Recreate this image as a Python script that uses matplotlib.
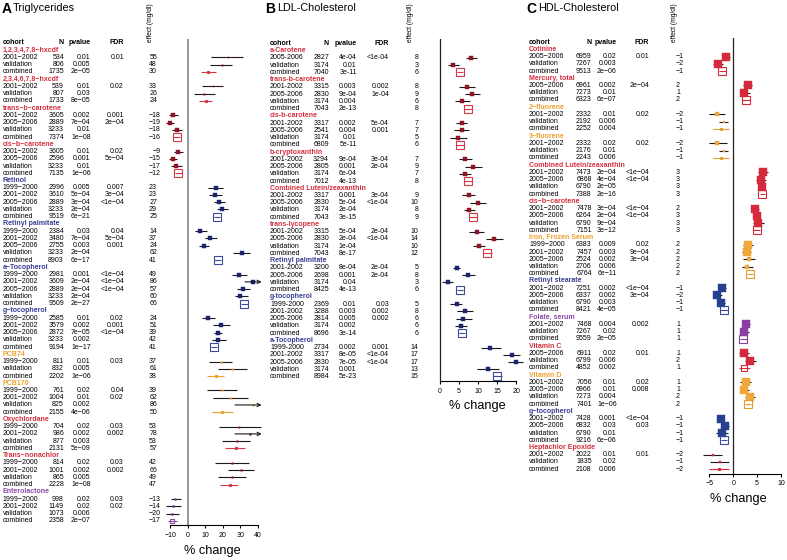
import numpy as np
import matplotlib.pyplot as plt

plt.rcParams['font.family'] = ['Liberation Sans', 'DejaVu Sans']

# ---------------- Panel A: Triglycerides ----------------
groups_a = ["1,2,3,4,7,8−hxcdf", "2,3,4,6,7,8−hxcdf", "trans−b−carotene", "cis−b−carotene",
            "Retinol", "Retinyl palmitate", "a−Tocopherol", "g−tocopherol", "PCB74", "PCB170",
            "Oxychlordane", "Trans−nonachlor", "Enterolactone"]
hues_a = ["red", "red", "red", "red", "blue", "blue", "blue", "blue", "orange", "orange",
          "red", "red", "purple"]
cohorts_a = [
    ["2001−2002", "validation", "combined"],
    ["2001−2002", "validation", "combined"],
    ["2001−2002", "2005−2006", "validation", "combined"],
    ["2001−2002", "2005−2006", "validation", "combined"],
    ["1999−2000", "2001−2002", "2005−2006", "validation", "combined"],
    ["1999−2000", "2001−2002", "2005−2006", "validation", "combined"],
    ["1999−2000", "2001−2002", "2005−2006", "validation", "combined"],
    ["1999−2000", "2001−2002", "2005−2006", "validation", "combined"],
    ["1999−2000", "validation", "combined"],
    ["1999−2000", "2001−2002", "validation", "combined"],
    ["1999−2000", "2001−2002", "validation", "combined"],
    ["1999−2000", "2001−2002", "validation", "combined"],
    ["1999−2000", "2001−2002", "validation", "combined"],
]
n_a = [[534, 806, 1735], [539, 807, 1733], [3605, 2889, 3233, 7374], [3605, 2596, 3233, 7135],
       [2996, 3610, 2889, 3233, 9519], [2384, 3480, 2755, 3233, 8903],
       [2981, 3609, 2889, 3233, 9509], [2585, 3579, 2872, 3233, 9194], [811, 832, 2202],
       [761, 1004, 825, 2155], [704, 986, 877, 2131], [814, 1001, 865, 2228],
       [998, 1149, 1073, 2358]]
pval_a = [["0.01", "0.005", "2e−05"], ["0.01", "0.03", "8e−05"],
          ["0.002", "7e−04", "0.01", "1e−08"], ["0.01", "0.001", "0.01", "1e−06"],
          ["0.005", "5e−04", "3e−04", "2e−04", "6e−21"], ["0.03", "7e−04", "0.003", "2e−04", "6e−17"],
          ["0.001", "2e−04", "2e−04", "2e−04", "2e−27"], ["0.01", "0.002", "7e−05", "0.002", "1e−17"],
          ["0.01", "0.005", "1e−06"], ["0.02", "0.01", "0.002", "4e−06"],
          ["0.02", "0.002", "0.003", "5e−09"], ["0.02", "0.002", "0.005", "1e−08"],
          ["0.02", "0.02", "0.006", "2e−07"]]
fdr_a = [["0.01", "", ""], ["0.02", "", ""], ["0.001", "2e−04", "", ""], ["0.02", "5e−04", "", ""],
         ["0.007", "3e−04", "<1e−04", "", ""], ["0.04", "5e−04", "0.001", "", ""],
         ["<1e−04", "<1e−04", "<1e−04", "", ""], ["0.02", "0.001", "<1e−04", "", ""],
         ["0.03", "", ""], ["0.04", "0.02", "", ""], ["0.03", "0.002", "", ""],
         ["0.03", "0.002", "", ""], ["0.03", "0.02", "", ""]]
effect_a = [[55, 48, 30], [33, 26, 24], [-18, -19, -18, -16], [-9, -15, -17, -12],
            [23, 23, 27, 29, 25], [14, 37, 24, 62, 41], [49, 86, 57, 60, 66], [24, 51, 39, 42, 41],
            [37, 61, 38], [39, 62, 86, 50], [53, 78, 53, 57], [42, 66, 49, 47], [-13, -14, -20, -17]]
pct_a = [[22.7, 19.2, 11.6], [14.1, 9.1, 10.1], [-8.6, -10.5, -6.5, -6.5], [-5.5, -8.6, -6.9, -5.5],
         [15.8, 15.6, 17.7, 19.6, 16.6], [6.9, 12.6, 9.1, 30.7, 17.0], [29.3, 37.0, 31.6, 29.7, 32.2],
         [11.6, 18.9, 17.0, 17.3, 15.0], [18.7, 25.3, 15.8], [19.2, 24.0, 37.0, 19.2],
         [29.3, 35.4, 27.8, 27.4], [25.3, 30.3, 25.0, 24.0], [-7.4, -8.4, -9.3, -9.0]]
lo_a = [[13.1, 12.6, 7.2], [7.8, 3.6, 6.1], [-10.9, -12.4, -9.3, -8.3], [-8.0, -10.9, -9.7, -7.3],
        [11.6, 12.2, 15.0, 16.4, 15.0], [4.0, 9.7, 6.5, 25.9, 15.0], [25.0, 32.6, 27.8, 26.9, 30.3],
        [7.8, 14.5, 15.0, 13.5, 13.3], [12.2, 17.3, 11.0], [11.0, 14.1, 26.9, 13.5],
        [17.9, 26.9, 19.2, 21.1], [15.4, 22.7, 17.0, 18.3], [-9.9, -12.7, -12.7, -11.6]]
hi_a = [[31.2, 25.0, 16.0], [19.8, 15.4, 13.9], [-5.9, -7.8, -3.3, -4.6], [-2.7, -6.5, -3.2, -3.7],
        [19.8, 19.2, 21.1, 23.0, 18.3], [10.7, 16.4, 12.2, 35.4, 19.0], [33.9, 45.0, 35.4, 34.5, 34.2],
        [15.4, 24.0, 19.2, 21.7, 16.8], [25.0, 33.5, 20.6], [27.8, 34.5, 50.0, 25.9],
        [41.5, 48.0, 35.4, 32.6], [35.0, 37.9, 33.1, 28.8], [-4.0, -4.0, -5.1, -6.5]]

# ---------------- Panel B: LDL-Cholesterol ----------------
groups_b = ["a-Carotene", "trans-b-carotene", "cis-b-carotene", "b-cryptoxanthin",
            "Combined Lutein/zeaxanthin", "trans-lycopene", "Retinyl palmitate",
            "g-tocopherol", "a-Tocopherol"]
hues_b = ["red", "red", "red", "red", "red", "red", "blue", "blue", "blue"]
cohorts_b = [
    ["2005-2006", "validation", "combined"],
    ["2001-2002", "2005-2006", "validation", "combined"],
    ["2001-2002", "2005-2006", "validation", "combined"],
    ["2001-2002", "2005-2006", "validation", "combined"],
    ["2001-2002", "2005-2006", "validation", "combined"],
    ["2001-2002", "2005-2006", "validation", "combined"],
    ["2001-2002", "2005-2006", "validation", "combined"],
    ["1999-2000", "2001-2002", "2005-2006", "validation", "combined"],
    ["1999-2000", "2001-2002", "2005-2006", "validation", "combined"],
]
n_b = [[2827, 3174, 7040], [3315, 2830, 3174, 7043], [3317, 2541, 3174, 6809],
       [3294, 2805, 3174, 7012], [3317, 2830, 3174, 7043], [3315, 2830, 3174, 7043],
       [3200, 2698, 3174, 8425], [2369, 3288, 2814, 3174, 8696], [2734, 3317, 2830, 3174, 8984]]
pval_b = [["4e-04", "0.01", "3e-11"], ["0.003", "9e-04", "0.004", "2e-13"],
          ["0.002", "0.004", "0.01", "5e-11"], ["9e-04", "0.001", "6e-04", "4e-13"],
          ["0.001", "5e-04", "2e-04", "3e-15"], ["5e-04", "2e-04", "1e-04", "8e-17"],
          ["8e-04", "0.001", "0.04", "4e-13"], ["0.01", "0.003", "0.005", "0.002", "3e-14"],
          ["0.002", "8e-05", "7e-05", "0.001", "5e-23"]]
fdr_b = [["<1e-04", "", ""], ["0.002", "1e-04", "", ""], ["5e-04", "0.001", "", ""],
         ["3e-04", "2e-04", "", ""], ["3e-04", "<1e-04", "", ""], ["2e-04", "<1e-04", "", ""],
         ["2e-04", "2e-04", "", ""], ["0.03", "0.002", "0.002", "", ""],
         ["0.001", "<1e-04", "<1e-04", "", ""]]
effect_b = [[8, 3, 6], [8, 9, 6, 8], [7, 7, 5, 6], [7, 9, 7, 8], [9, 10, 8, 9], [10, 14, 10, 12],
            [5, 8, 3, 6], [5, 8, 6, 6, 6], [14, 17, 17, 13, 15]]
pct_b = [[8.1, 3.3, 5.3], [7.0, 8.5, 5.9, 7.4], [5.7, 5.7, 4.8, 5.3], [6.6, 8.6, 6.6, 7.4],
         [7.5, 10.0, 7.7, 8.7], [9.6, 14.3, 10.2, 12.4], [4.4, 7.4, 2.0, 5.2],
         [4.4, 6.6, 6.1, 5.4, 5.8], [13.1, 18.8, 19.9, 12.6, 15.0]]
lo_b = [[6.7, 2.0, 4.5], [5.0, 6.6, 3.9, 6.4], [4.2, 3.8, 2.6, 4.3], [5.1, 6.6, 5.1, 6.4],
        [5.9, 7.9, 6.3, 7.7], [7.7, 12.1, 8.7, 11.2], [3.3, 5.7, 0.4, 4.4],
        [2.6, 4.4, 4.2, 3.9, 5.0], [10.7, 16.5, 17.9, 9.6, 13.8]]
hi_b = [[9.6, 5.1, 6.1], [9.2, 10.5, 7.9, 8.4], [7.2, 7.7, 7.0, 6.3], [8.3, 10.9, 8.1, 8.4],
        [9.2, 12.1, 9.2, 9.7], [11.5, 16.5, 11.8, 13.7], [5.2, 9.2, 3.5, 6.0],
        [5.9, 8.7, 8.3, 7.2, 6.6], [15.9, 21.0, 21.9, 15.6, 16.3]]

# ---------------- Panel C: HDL-Cholesterol ----------------
groups_c = ["Cotinine", "Mercury, total", "2−fluorene", "3−fluorene", "Combined Lutein/zeaxanthin",
            "cis−b−carotene", "Iron, Frozen Serum", "Retinyl stearate", "Folate, serum",
            "Vitamin C", "Vitamin D", "g−tocopherol", "Heptachlor Epoxide"]
hues_c = ["red", "red", "orange", "orange", "red", "red", "orange", "blue", "purple", "red",
          "orange", "blue", "red"]
cohorts_c = [
    ["2005−2006", "validation", "combined"],
    ["2005−2006", "validation", "combined"],
    ["2001−2002", "validation", "combined"],
    ["2001−2002", "validation", "combined"],
    ["2001−2002", "2005−2006", "validation", "combined"],
    ["2001−2002", "2005−2006", "validation", "combined"],
    ["1999−2000", "2001−2002", "2005−2006", "validation", "combined"],
    ["2001−2002", "2005−2006", "validation", "combined"],
    ["2001−2002", "validation", "combined"],
    ["2005−2006", "validation", "combined"],
    ["2001−2002", "2005−2006", "validation", "combined"],
    ["2001−2002", "2005−2006", "validation", "combined"],
    ["2001−2002", "validation", "combined"],
]
n_c = [[6959, 7267, 9513], [6961, 7273, 6323], [2332, 2192, 2252], [2332, 2176, 2243],
       [7473, 6868, 6790, 7388], [7478, 6264, 6790, 7151], [6383, 7457, 2524, 2706, 6764],
       [7251, 6337, 6790, 8421], [7468, 7267, 9559], [6911, 6799, 4852],
       [7056, 6966, 7273, 7401], [7428, 6832, 6790, 9216], [2022, 1835, 2108]]
pval_c = [["0.02", "0.003", "2e−06"], ["0.002", "0.01", "6e−07"], ["0.01", "0.006", "0.004"],
          ["0.02", "0.01", "0.006"], ["2e−04", "4e−04", "2e−05", "2e−16"],
          ["3e−04", "2e−04", "9e−04", "3e−12"], ["0.009", "0.003", "0.002", "0.006", "6e−11"],
          ["0.002", "0.002", "0.003", "4e−05"], ["0.004", "0.02", "2e−05"],
          ["0.02", "0.006", "0.002"], ["0.01", "0.01", "0.004", "1e−06"],
          ["0.001", "0.03", "0.01", "6e−06"], ["0.01", "0.02", "0.006"]]
fdr_c = [["0.01", "", ""], ["2e−04", "", ""], ["0.02", "", ""], ["0.02", "", ""],
         ["<1e−04", "<1e−04", "", ""], ["<1e−04", "<1e−04", "", ""],
         ["0.02", "9e−04", "3e−04", "", ""], ["<1e−04", "3e−04", "", ""], ["0.002", "", ""],
         ["0.01", "", ""], ["0.02", "0.008", "", ""], ["<1e−04", "0.03", "", ""], ["0.01", "", ""]]
effect_c = [[-1, -2, -1], [2, 1, 2], [-2, -1, -1], [-2, -1, -1], [3, 3, 3, 3], [2, 3, 3, 3],
            [2, 2, 2, 2, 2], [-1, -2, -1, -1], [1, 1, 1], [1, 2, 1], [1, 1, 2, 2],
            [-1, -1, -1, -1], [-2, -1, -2]]
pct_c = [[-1.6, -3.3, -2.3], [3.0, 2.3, 2.7], [-3.4, -2.0, -2.6], [-3.4, -2.0, -2.6],
         [6.2, 5.8, 6.0, 6.1], [4.5, 5.0, 5.2, 4.9], [3.1, 2.8, 3.3, 2.9, 3.5],
         [-2.3, -3.4, -2.6, -2.0], [2.7, 2.2, 2.1], [2.2, 3.4, 2.3], [2.6, 2.3, 3.4, 3.1],
         [-2.6, -1.7, -2.4, -1.9], [-4.3, -2.8, -3.0]]
lo_c = [[-2.4, -4.2, -3.0], [2.1, 1.4, 1.9], [-5.0, -2.9, -4.3], [-5.2, -2.9, -4.3],
        [5.2, 4.8, 5.4, 5.5], [3.9, 4.4, 4.2, 4.2], [2.1, 1.9, 2.1, 1.8, 2.8],
        [-3.1, -4.2, -3.4, -2.8], [1.8, 1.5, 1.4], [1.2, 2.5, 1.2], [1.4, 1.4, 2.5, 2.4],
        [-3.4, -2.6, -3.6, -2.6], [-6.4, -4.9, -5.2]]
hi_c = [[-0.7, -2.1, -1.6], [3.9, 3.5, 3.6], [-1.7, -1.2, -0.8], [-1.4, -1.1, -0.8],
        [7.2, 6.8, 6.7, 6.7], [5.4, 5.7, 6.4, 5.6], [4.2, 3.7, 4.5, 4.2, 4.2],
        [-1.6, -2.3, -1.7, -1.2], [3.6, 3.2, 2.9], [3.2, 4.7, 3.6], [3.8, 3.2, 4.5, 3.8],
        [-1.9, -0.8, -1.1, -1.3], [-2.3, -0.9, -0.9]]

# colours: header text, filled cohort box, combined (open) box
pal_ab = {
    "red": ("#d5303e", "#8e1426", "#d23a48"),
    "blue": ("#3a3d94", "#1c2470", "#3d4a9e"),
    "orange": ("#f0a030", "#e8a030", "#e8a030"),
    "purple": ("#8c4aa6", "#6b2d8a", "#8c4aa6"),
}
pal_c = {
    "red": ("#d5303e", "#d42a3c", "#d42a3c"),
    "blue": ("#3a3d94", "#25408f", "#3d4a9e"),
    "orange": ("#f0a030", "#f0a83a", "#e89a2a"),
    "purple": ("#8c4aa6", "#8a3fa3", "#8a3fa3"),
}

W, H = 787, 560
fig = plt.figure(figsize=(W / 100, H / 100), dpi=100)
bg = fig.add_axes([0, 0, 1, 1])
bg.set_xlim(0, W)
bg.set_ylim(H, 0)
bg.axis('off')

FS = 5.0


def draw_panel(letter, title, groups, hues, cohorts, ns, pvals, fdrs, effects, pct, lo, hi, pal, lay):
    y0, step = lay['y0'], lay['step']
    ypix = lambda r: y0 + step * r

    # titles
    bg.text(lay['letter_x'], 13.3, letter, fontsize=10, fontweight='bold', va='baseline')
    bg.text(lay['title_x'], 11.0, title, fontsize=7.8, va='baseline')
    bg.text(lay['x_lab'], 41.5, "effect (mg/dl)", fontsize=4.8, rotation=90, ha='center', va='bottom')

    # column headers
    yh = ypix(-1)
    bg.text(lay['x_cohort'], yh, "cohort", fontsize=FS, fontweight='bold', va='center')
    bg.text(lay['x_n'], yh, "N", fontsize=FS, fontweight='bold', va='center', ha='right')
    bg.text(lay['x_p'], yh, "pvalue", fontsize=FS, fontweight='bold', va='center', ha='right')
    bg.text(lay['x_fdr'], yh, "FDR", fontsize=FS, fontweight='bold', va='center', ha='right')

    n_rows = sum(len(c) + 1 for c in cohorts)
    y_axis = ypix(n_rows - 1) + 4.5
    x0, x1 = lay['box']
    ax = fig.add_axes([x0 / W, 1 - y_axis / H, (x1 - x0) / W, (y_axis - lay['top']) / H])
    ax.set_xlim(*lay['xlim'])
    ax.set_ylim((y_axis - y0) / step, (lay['top'] - y0) / step)
    ax.patch.set_alpha(0)
    for s in ['top', 'right', 'left']:
        ax.spines[s].set_visible(False)
    ax.spines['bottom'].set_bounds(lay['ticks'][0], lay['ticks'][-1])
    ax.spines['bottom'].set_linewidth(0.8)
    ax.set_yticks([])
    ax.set_xticks(lay['ticks'])
    ax.tick_params(axis='x', length=2.5, width=0.8, pad=2.2, labelsize=FS)
    ax.axvline(0, color=lay['zero'][0], lw=lay['zero'][1], zorder=0)
    bg.text(lay['xlabel_x'], lay['xlabel_dy'] + y_axis, "% change", fontsize=9.2, ha='center', va='center')

    xmax = lay['xlim'][1]
    r = 0
    for g, name in enumerate(groups):
        head, fill, edge = pal[hues[g]]
        bg.text(lay['x_cohort'], ypix(r), name, fontsize=FS, fontweight='bold', color=head, va='center')
        r += 1
        for k, coh in enumerate(cohorts[g]):
            y = ypix(r)
            bg.text(lay['x_cohort'], y, coh, fontsize=FS, va='center')
            bg.text(lay['x_n'], y, str(ns[g][k]), fontsize=FS, va='center', ha='right')
            bg.text(lay['x_p'], y, pvals[g][k], fontsize=FS, va='center', ha='right')
            bg.text(lay['x_fdr'], y, fdrs[g][k], fontsize=FS, va='center', ha='right')
            e = effects[g][k]
            ex = lay['x_eff'] + (4 if e < 0 else 0)
            bg.text(ex, y, str(e).replace('-', lay['minus']), fontsize=FS, va='center', ha='right')

            combined = coh == "combined"
            lc = edge if combined else '#1a1a1a'
            # box side (px) grows with sample size
            side = np.clip(ns[g][k] * 1.05 / 1000 + 0.6, 1.2, 7.2)
            size_pt = side * 0.72
            if hi[g][k] > xmax:
                ax.annotate('', xy=(xmax - 0.2, r), xytext=(lo[g][k], r),
                            arrowprops=dict(arrowstyle='->', lw=0.8, color=lc, mutation_scale=6,
                                            shrinkA=0, shrinkB=0))
            else:
                ax.plot([lo[g][k], hi[g][k]], [r, r], color=lc, lw=0.8, solid_capstyle='butt')
            if combined:
                ax.plot(pct[g][k], r, marker='s', ms=size_pt, mfc='none', mec=edge, mew=0.8)
            else:
                ax.plot(pct[g][k], r, marker='s', ms=size_pt, mfc=fill, mec=fill, mew=0.3)
            r += 1
    return ax


lay_a = dict(letter_x=1.7, title_x=12.3, x_lab=150, x_cohort=2.7, x_n=64, x_p=90.7, x_fdr=124,
             x_eff=157, y0=50.2, step=7.24, top=39, box=(164, 262), xlim=(-13.7, 42.3),
             ticks=[-10, 0, 10, 20, 30, 40], zero=('#8c8c8c', 1.3), xlabel_x=212.8, xlabel_dy=26,
             minus='−')
lay_b = dict(letter_x=265, title_x=277.3, x_lab=410, x_cohort=270, x_n=329, x_p=356.7, x_fdr=389,
             x_eff=418.7, y0=50.7, step=7.24, top=39, box=(436.2, 526.1), xlim=(-1.0, 22.6),
             ticks=[0, 5, 10, 15, 20], zero=('#222222', 0.9), xlabel_x=477, xlabel_dy=25.5,
             minus='-')
lay_c = dict(letter_x=526.7, title_x=538, x_lab=675, x_cohort=529, x_n=591.7, x_p=616.7, x_fdr=649,
             x_eff=680, y0=49.3, step=7.24, top=38, box=(700.4, 786.7), xlim=(-6.9, 11.2),
             ticks=[-5, 0, 5, 10], zero=('#222222', 0.9), xlabel_x=738, xlabel_dy=25.5,
             minus='−')

draw_panel("A", "Triglycerides", groups_a, hues_a, cohorts_a, n_a, pval_a, fdr_a, effect_a,
           pct_a, lo_a, hi_a, pal_ab, lay_a)
draw_panel("B", "LDL-Cholesterol", groups_b, hues_b, cohorts_b, n_b, pval_b, fdr_b, effect_b,
           pct_b, lo_b, hi_b, pal_ab, lay_b)
draw_panel("C", "HDL-Cholesterol", groups_c, hues_c, cohorts_c, n_c, pval_c, fdr_c, effect_c,
           pct_c, lo_c, hi_c, pal_c, lay_c)

fig.savefig("out.png", dpi=100)
